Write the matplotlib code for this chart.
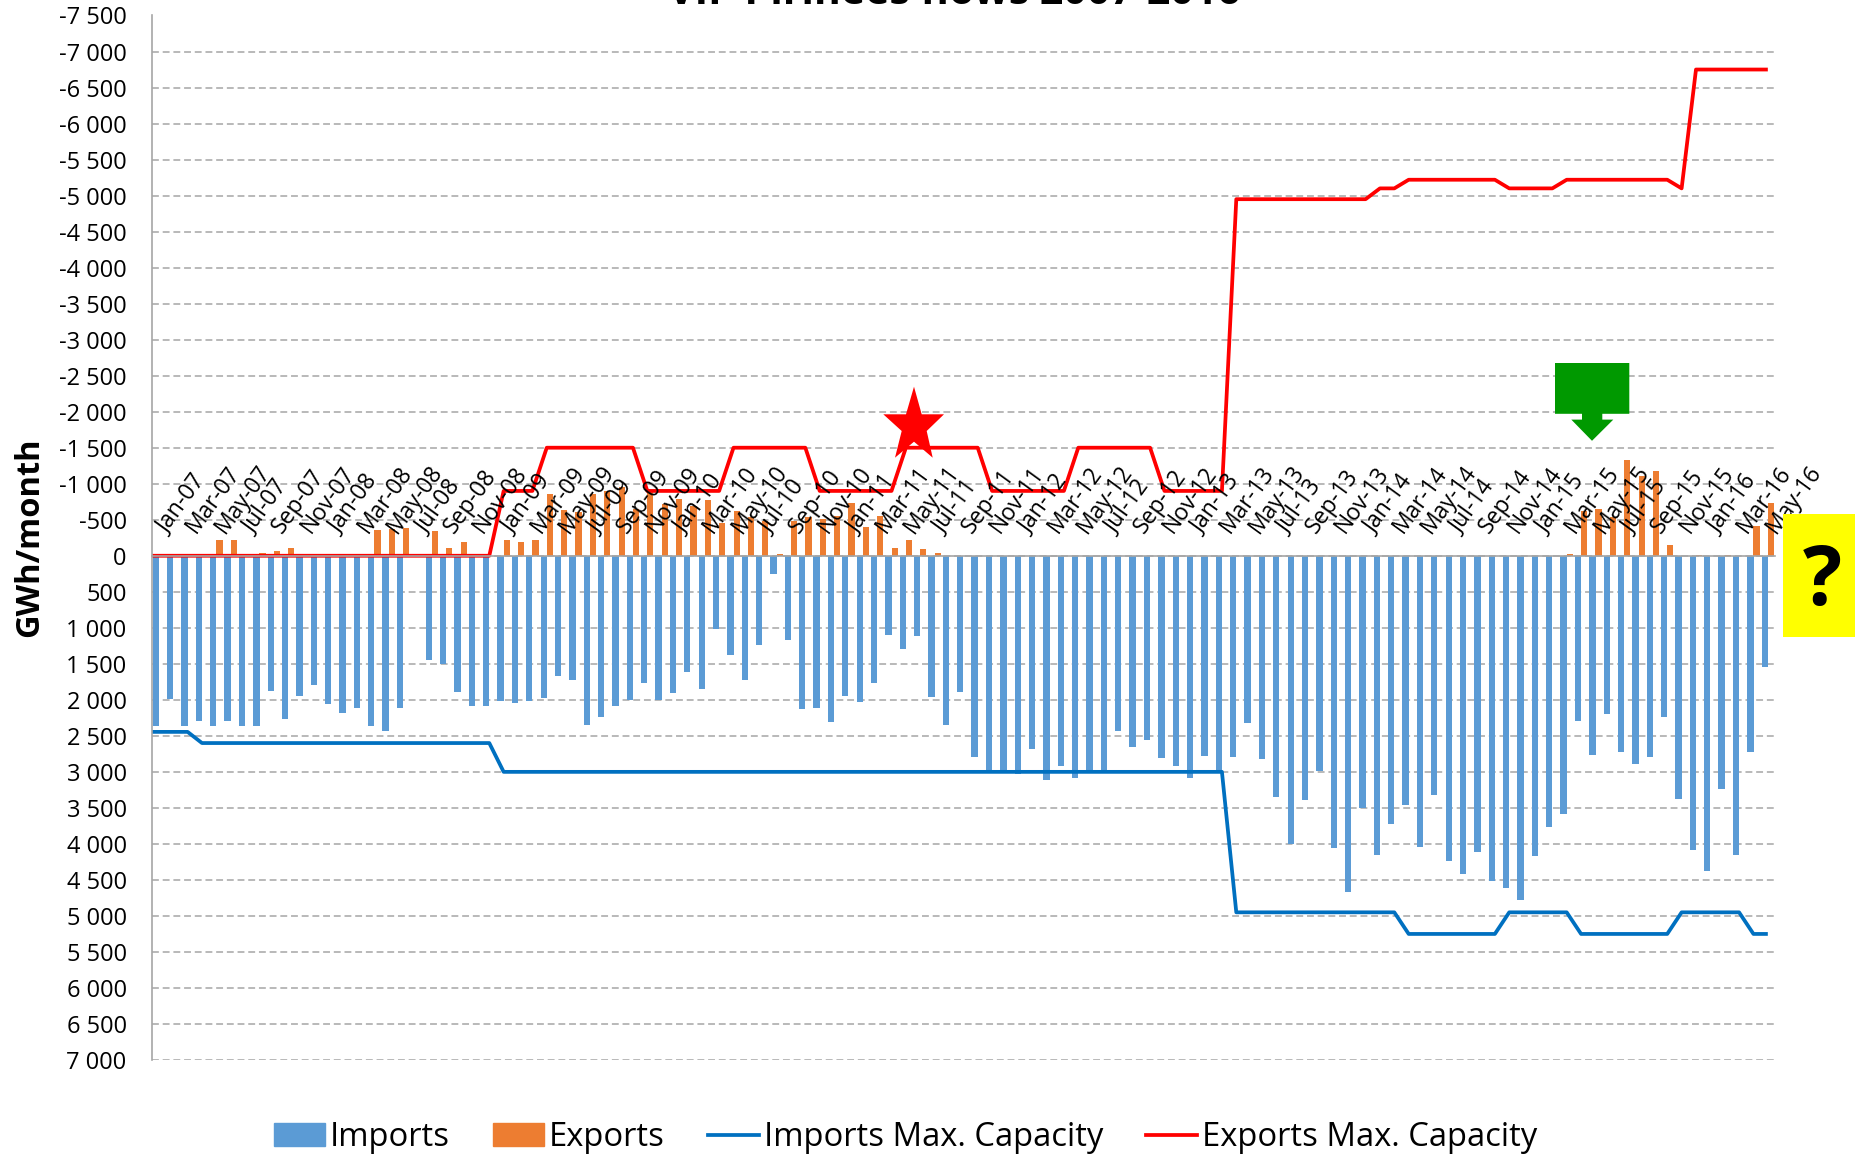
#!/usr/bin/env python3

import numpy as np
import pandas as pd
import matplotlib as mpl
mpl.use('Agg')
import matplotlib.pyplot as plt
from matplotlib.lines import Line2D
from matplotlib.patches import Patch, Polygon, Rectangle
from matplotlib.ticker import FuncFormatter
from matplotlib.transforms import ScaledTranslation

mpl.rcParams['font.family'] = ['Open Sans', 'DejaVu Sans']

W, H = 1858, 1157

months = pd.date_range('2007-01-01', periods=113, freq='MS').strftime('%b-%y').tolist()

imports = [2357, 1982, 2361, 2287, 2366, 2287, 2366, 2361, 1880, 2264, 1940, 1801,
           2051, 2185, 2116, 2370, 2435, 2116, 0, 1449, 1509, 1898, 2079, 2088,
           2023, 2042, 2023, 1977, 1671, 1718, 2343, 2236, 2083, 2009, 1773, 2000,
           1908, 1611, 1852, 1023, 1380, 1722, 1245, 250, 1176, 2121, 2111, 2306,
           1940, 2033, 1769, 1102, 1292, 1120, 1963, 2343, 1894, 2797, 3000, 3000,
           3028, 2681, 3116, 2922, 3084, 3000, 3000, 2431, 2648, 2551, 2810, 2922,
           3084, 2773, 2991, 2797, 2320, 2824, 3343, 4005, 3385, 2991, 4051, 4663,
           3496, 4153, 3723, 3454, 4038, 3320, 4240, 4416, 4112, 4522, 4618, 4783,
           4166, 3772, 3580, 2288, 2766, 2202, 2724, 2889, 2793, 2245, 3378, 4080,
           4378, 3235, 4155, 2719, 1548]

exports = [0, 0, 0, 0, -222, -218, 0, -37, -65, -106, 0, 0,
           0, 0, 0, -361, -375, -389, 0, -347, -111, -190, 0, 0,
           -213, -194, -218, -861, -634, -607, -861, -903, -954, -653, -894, -722,
           -782, -694, -769, -458, -625, -532, -477, -28, -486, -537, -514, -556,
           -727, -394, -546, -111, -213, -88, -37, 0, 0, 0, 0, 0,
           0, 0, 0, 0, 0, 0, 0, 0, 0, 0, 0, 0,
           0, 0, 0, 0, 0, 0, 0, 0, 0, 0, 0, 0,
           0, 0, 0, 0, 0, 0, 0, 0, 0, 0, 0, 0,
           0, 0, -20, -620, -649, -532, -1335, -1112, -1170, -144, 0, -10,
           0, -5, 0, -420, -739]

imports_cap = ([2445] * 3 + [2600] * 21 + [3000] * 51 + [4950] * 12 + [5250] * 7
               + [4950] * 5 + [5250] * 7 + [4950] * 5 + [5250] * 2)

exports_cap = ([0] * 24 + [-900] * 3 + [-1500] * 7 + [-900] * 6 + [-1500] * 6
               + [-900] * 6 + [-1500] * 6 + [-900] * 6 + [-1500] * 6 + [-900] * 5
               + [-4950] * 10 + [-5100] * 2 + [-5220] * 7 + [-5100] * 4 + [-5220] * 8
               + [-5100] + [-6750] * 6)

y_ticks = np.arange(-7500, 7001, 500)


def px(x, y):
    return x / W, 1 - y / H


def fmt_y(v, pos):
    return f'{int(v):,}'.replace(',', ' ')


fig = plt.figure(figsize=(W / 100, H / 100), dpi=100)
left, top, right, bottom = 151.7, 15.5, 1775, 1060
ax = fig.add_axes([left / W, 1 - bottom / H, (right - left) / W, (bottom - top) / H])

# set_position resets the ticks, so it has to come before the tick setup
ax.spines['top'].set_position(('data', 0))
ax.spines['bottom'].set_visible(False)
ax.spines['right'].set_visible(False)
for s in ('top', 'left'):
    ax.spines[s].set_color('#A6A6A6')
    ax.spines[s].set_linewidth(1.2)

x = np.arange(len(months))
ax.bar(x - 0.215, imports, 0.44, color='#5B9BD5', zorder=2)
ax.bar(x + 0.215, exports, 0.43, color='#ED7D31', zorder=2)
# in the original both lines start right at the axis, half a month before Jan-07
line_x = np.r_[-0.5, x]
ax.plot(line_x, imports_cap[:1] + imports_cap, color='#0070C0', lw=2.7, zorder=2.2,
        solid_capstyle='butt')
ax.plot(line_x, exports_cap[:1] + exports_cap, color='#FF0000', lw=2.7, zorder=2.2,
        solid_capstyle='butt')

ax.set_xlim(-0.5, len(months) - 0.5)
ax.set_ylim(7000, -7500)
ax.set_yticks(y_ticks)
ax.yaxis.set_major_formatter(FuncFormatter(fmt_y))
ax.tick_params(axis='y', length=0, pad=18, labelsize=17)
ax.grid(axis='y', color='#A6A6A6', lw=1.1, ls=(0, (4.5, 2.5)))
ax.yaxis.set_zorder(0.5)

ax.xaxis.tick_top()
ax.set_xticks(x[::2])
ax.set_xticklabels(months[::2])
ax.tick_params(axis='x', length=0, pad=13, labelsize=16.5)
shift = ScaledTranslation(13 / 100, 0, fig.dpi_scale_trans)
for tick in ax.xaxis.get_major_ticks():
    lab = tick.label2
    lab.set(rotation=54, ha='left', va='bottom', rotation_mode='anchor')
    lab.set_transform(lab.get_transform() + shift)
ax.xaxis.set_zorder(3)

fig.text(*px(954, 4), 'VIP Pirinees flows 2007-2016', fontsize=29.5, fontweight='bold',
         ha='center', va='baseline')
fig.text(*px(30, 537), 'GWh/month', fontsize=23.5, fontweight='bold', rotation=90,
         ha='center', va='center')

handles = [Patch(color='#5B9BD5'), Patch(color='#ED7D31'),
           Line2D([], [], color='#0070C0', lw=2.7), Line2D([], [], color='#FF0000', lw=2.7)]
names = ['Imports', 'Exports', 'Imports Max. Capacity', 'Exports Max. Capacity']
fig.legend(handles, names, ncol=4, frameon=False, fontsize=23.6, loc='lower left',
           bbox_to_anchor=px(274, 1154), borderaxespad=0, borderpad=0,
           handlelength=1.55, handletextpad=0.16, columnspacing=1.31)

# the star, the green arrow and the yellow box sit on top of the chart
star = [(914, 386.7), (921.7, 414.3), (944, 414.3), (926.7, 431), (932.7, 457.7),
        (914, 441.7), (895, 457.7), (901.7, 431), (883.3, 414.3), (906, 414.3)]
fig.add_artist(Polygon([px(*p) for p in star], closed=True, color='#FF0000',
                       transform=fig.transFigure, lw=0))
arrow = [(1555, 363), (1629.3, 363), (1629.3, 413.8), (1602.3, 413.8), (1602.3, 419.6),
         (1613.3, 419.6), (1592, 440.8), (1571.3, 419.6), (1582, 419.6), (1582, 413.8),
         (1555, 413.8)]
fig.add_artist(Polygon([px(*p) for p in arrow], closed=True, color='#009900',
                       transform=fig.transFigure, lw=0))
fig.add_artist(Rectangle(px(1783, 637.3), (1855.3 - 1783) / W, (637.3 - 513.8) / H,
                         color='#FFFF00', transform=fig.transFigure, lw=0))
fig.text(*px(1822.7, 584), '?', fontsize=59, fontweight='bold', ha='center', va='center')

fig.savefig('out.png', dpi=100)
